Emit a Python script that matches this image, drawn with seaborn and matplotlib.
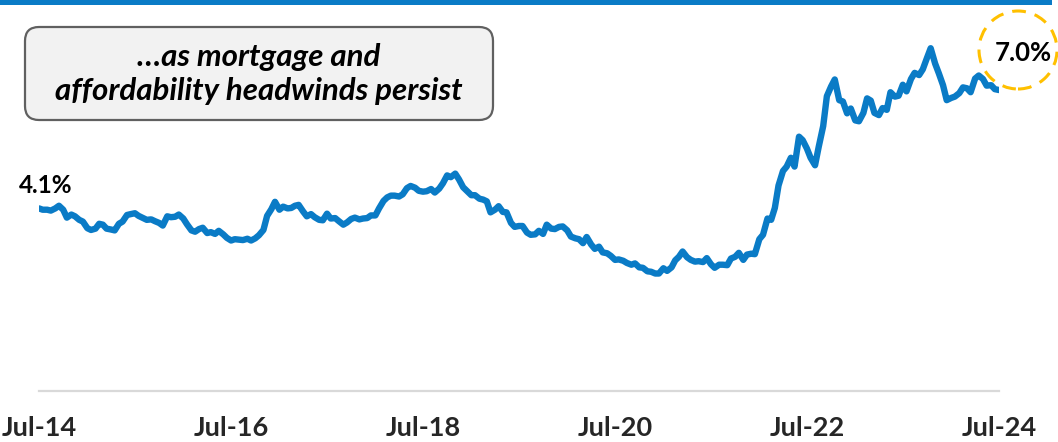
import matplotlib
matplotlib.use("Agg")
import matplotlib.pyplot as plt
import matplotlib.dates as mdates
import matplotlib.patches as mpatches
import matplotlib.transforms as mtransforms
import numpy as np
import pandas as pd
import seaborn as sns

# 30년 고정 모기지 금리 (%), 반월 간격 (1일/16일)
rates_2014 = [4.15, 4.12, 4.12, 4.10, 4.15, 4.21, 4.12, 3.94, 4.01, 3.97, 3.89, 3.85]
rates_2015 = [3.70, 3.66, 3.69, 3.80, 3.78, 3.69, 3.67, 3.65, 3.80, 3.85, 4.00, 4.02,
              4.04, 3.98, 3.93, 3.89, 3.90, 3.86, 3.82, 3.76, 3.97, 3.95, 3.96, 4.01]
rates_2016 = [3.92, 3.79, 3.65, 3.62, 3.68, 3.71, 3.59, 3.61, 3.57, 3.64, 3.56, 3.48,
              3.42, 3.45, 3.44, 3.43, 3.46, 3.42, 3.47, 3.54, 3.66, 3.98, 4.13, 4.30]
rates_2017 = [4.12, 4.19, 4.15, 4.16, 4.21, 4.23, 4.08, 3.97, 4.02, 3.95, 3.89, 3.88,
              4.03, 3.92, 3.93, 3.86, 3.78, 3.83, 3.91, 3.94, 3.90, 3.92, 3.93, 3.99]
rates_2018 = [3.99, 4.15, 4.32, 4.40, 4.44, 4.44, 4.42, 4.47, 4.61, 4.66, 4.62, 4.55,
              4.53, 4.54, 4.59, 4.51, 4.60, 4.72, 4.90, 4.86, 4.94, 4.81, 4.63, 4.55]
rates_2019 = [4.45, 4.45, 4.37, 4.35, 4.31, 4.06, 4.12, 4.20, 4.07, 4.06, 3.82, 3.73,
              3.75, 3.75, 3.60, 3.55, 3.56, 3.64, 3.57, 3.78, 3.69, 3.68, 3.73, 3.74]
rates_2020 = [3.65, 3.51, 3.47, 3.45, 3.36, 3.50, 3.33, 3.23, 3.28, 3.15, 3.13, 3.07,
              2.98, 2.99, 2.96, 2.91, 2.87, 2.90, 2.81, 2.80, 2.72, 2.71, 2.67, 2.67]
rates_2021 = [2.79, 2.73, 2.81, 2.97, 3.05, 3.17, 3.04, 2.98, 2.94, 2.95, 2.93, 3.02,
              2.88, 2.80, 2.87, 2.87, 2.86, 3.01, 3.05, 3.14, 2.98, 3.10, 3.12, 3.11]
rates_2022 = [3.45, 3.55, 3.92, 3.89, 4.16, 4.67, 5.00, 5.10, 5.30, 5.10, 5.78, 5.70,
              5.51, 5.30, 5.13, 5.55, 6.02, 6.70, 6.92, 7.08, 6.61, 6.58, 6.31, 6.42]
rates_2023 = [6.15, 6.13, 6.32, 6.65, 6.60, 6.32, 6.27, 6.43, 6.39, 6.79, 6.69, 6.71,
              6.96, 6.81, 7.09, 7.23, 7.18, 7.31, 7.57, 7.79, 7.44, 7.22, 6.95, 6.61]
rates_2024 = [6.66, 6.69, 6.77, 6.90, 6.88, 6.79, 7.10, 7.17, 7.09, 6.94, 6.95, 6.86,
              6.84]

tick_years = [2014, 2016, 2018, 2020, 2022, 2024]
start_label = "4.1%"
end_label = "7.0%"
box_text = "…as mortgage and\naffordability headwinds persist"

BLUE = "#0A7BC6"
GOLD = "#FFC000"

rates = (rates_2014 + rates_2015 + rates_2016 + rates_2017 + rates_2018 +
         rates_2019 + rates_2020 + rates_2021 + rates_2022 + rates_2023 + rates_2024)
dates = pd.date_range("2014-07-01", periods=len(rates), freq="SMS")
df = pd.DataFrame({"date": dates, "rate": rates})

sns.set_style("white")
plt.rcParams["font.family"] = ["Lato", "DejaVu Sans"]

fig = plt.figure(figsize=(10.58, 4.42), dpi=100)
ax = fig.add_axes([39 / 1058, 1 - 391 / 442, 960 / 1058, 391 / 442])

sns.lineplot(data=df, x="date", y="rate", ax=ax, color=BLUE, linewidth=4.6)

ax.set_xlim(dates[0], dates[-1])
ax.set_ylim(0, 8.886)
ax.set_xticks([pd.Timestamp(f"{y}-07-01") for y in tick_years])
ax.xaxis.set_major_formatter(mdates.DateFormatter("%b-%y"))
ax.tick_params(axis="x", length=0, pad=18, labelsize=19.5)
for lbl in ax.get_xticklabels():
    lbl.set_fontweight("bold")
ax.set_yticks([])
ax.set_xlabel("")
ax.set_ylabel("")
for side in ["left", "top", "right"]:
    ax.spines[side].set_visible(False)
ax.spines["bottom"].set_color("#D9D9D9")
ax.spines["bottom"].set_linewidth(1.6)

# 시작값 라벨
ax.annotate(start_label, xy=(dates[0], rates[0]), xytext=(7, 23),
            textcoords="offset pixels", ha="center", va="center",
            fontsize=17.5, fontweight="bold", color="black")

px = mtransforms.IdentityTransform()
H = 442

# 상단 파란 선
fig.add_artist(mpatches.Rectangle((0, H - 5), 1052, 5, transform=px,
                                  facecolor=BLUE, edgecolor="none"))

# 텍스트 박스
fig.add_artist(mpatches.FancyBboxPatch((25, H - 120), 468, 93,
                                       boxstyle="round,pad=0,rounding_size=14",
                                       transform=px, facecolor="#F2F2F2",
                                       edgecolor="#606060", linewidth=1.6))
fig.text(259 / 1058, 1 - 74 / 442, box_text, ha="center", va="center",
         fontsize=22.5, fontweight="bold", fontstyle="italic",
         linespacing=1.28, color="black")

# 종료값 라벨 + 점선 원
fig.add_artist(mpatches.Circle((1018, H - 50), 39, transform=px, fill=False,
                               edgecolor=GOLD, linewidth=2.2, linestyle=(0, (4.5, 3))))
fig.text(1023 / 1058, 1 - 53 / 442, end_label, ha="center", va="center",
         fontsize=18.5, fontweight="bold", color="black")

plt.savefig("out.png", dpi=100)
plt.close()
